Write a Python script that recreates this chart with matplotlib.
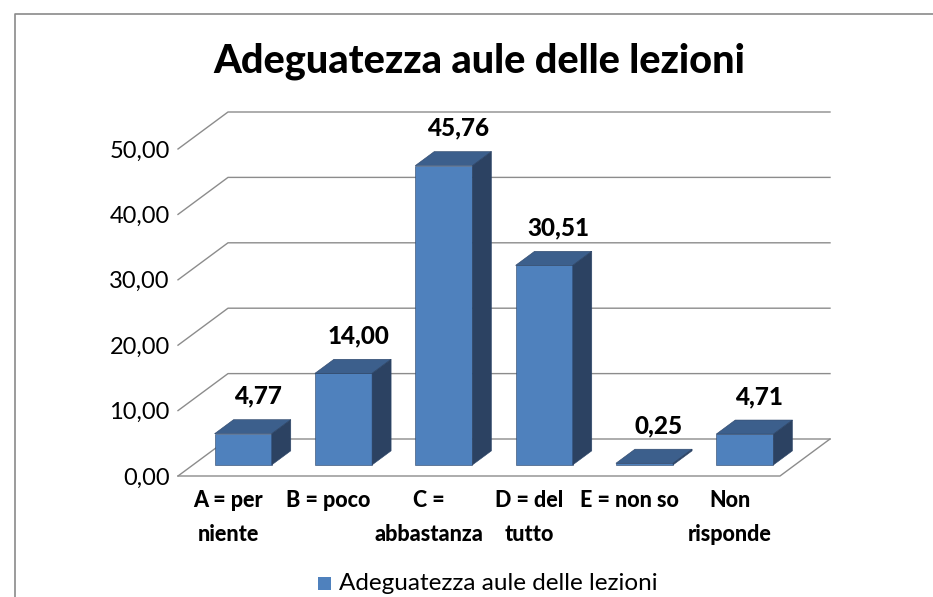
import matplotlib
matplotlib.use("Agg")
import matplotlib.pyplot as plt
from matplotlib.patches import Polygon, Rectangle
from matplotlib.lines import Line2D

categories = ["A = per\nniente", "B = poco", "C =\nabbastanza",
              "D = del\ntutto", "E = non so", "Non\nrisponde"]
values = [4.77, 14.00, 45.76, 30.51, 0.25, 4.71]
yticks = [0, 10, 20, 30, 40, 50]
series_name = "Adeguatezza aule delle lezioni"
title = "Adeguatezza aule delle lezioni"

plt.rcParams['font.family'] = ['Lato', 'DejaVu Sans']

W, H = 933, 597
fig = plt.figure(figsize=(W / 100, H / 100), dpi=100)

# front plane of the 3d box, in pixels
left, right, ybot, ytop = 178, 780, 476, 149
ax = fig.add_axes([left / W, 1 - ybot / H, (right - left) / W, (ybot - ytop) / H])
n = len(categories)
ax.set_xlim(-0.5, n - 0.5)
ax.set_ylim(0, 50)
for s in ax.spines.values():
    s.set_visible(False)

# depth of the box in data units (50 px right, 37 px up)
px_x = (right - left) / n
px_y = (ybot - ytop) / 50
DX = 50 / px_x
DY = 37 / px_y

grid_c = "#8c8c8c"
# back wall gridlines with the diagonal on the left side
for t in yticks:
    ax.plot([-0.5, -0.5 + DX, n - 0.5 + DX], [t, t + DY, t + DY],
            color=grid_c, lw=1, clip_on=False, zorder=1)
# floor outline
ax.plot([-0.5, n - 0.5, n - 0.5 + DX], [0, 0, DY],
        color=grid_c, lw=1, clip_on=False, zorder=1)

front_c = "#4f81bd"
top_c = "#3c5f8c"
side_c = "#2c4262"
edge_c = "#2b4468"
w = 0.57
d0, d1 = 0.30, 0.68
dd = d1 - d0

xs = [i + d0 * DX for i in range(n)]
ax.bar(xs, values, width=w, bottom=d0 * DY, color=front_c,
       edgecolor=edge_c, linewidth=0.4, zorder=3)
for i, v in enumerate(values):
    x0 = xs[i] - w / 2
    b = d0 * DY
    top = Polygon([(x0, b + v), (x0 + w, b + v),
                   (x0 + w + dd * DX, b + v + dd * DY),
                   (x0 + dd * DX, b + v + dd * DY)],
                  closed=True, facecolor=top_c, edgecolor=edge_c,
                  linewidth=0.4, zorder=3, clip_on=False)
    side = Polygon([(x0 + w, b), (x0 + w + dd * DX, b + dd * DY),
                    (x0 + w + dd * DX, b + v + dd * DY), (x0 + w, b + v)],
                   closed=True, facecolor=side_c, edgecolor=edge_c,
                   linewidth=0.4, zorder=3, clip_on=False)
    ax.add_patch(top)
    ax.add_patch(side)
    ax.text(i + (d0 + dd / 2) * DX + 0.05, v + d1 * DY + 3.6,
            f"{v:.2f}".replace(".", ","), ha="center", va="center",
            fontsize=17.5, fontweight="black", color="black", zorder=5,
            clip_on=False)

ax.set_yticks(yticks)
ax.set_yticklabels([f"{t:.2f}".replace(".", ",") for t in yticks], fontsize=17)
ax.set_xticks(range(n))
ax.set_xticklabels(categories, fontsize=15.5, fontweight="black", linespacing=1.75)
ax.tick_params(axis="y", length=0, pad=6)
ax.tick_params(axis="x", length=0, pad=10)
for lab in ax.get_xticklabels():
    lab.set_verticalalignment("top")

fig.text(479 / W, 1 - 61 / H, title, ha="center", va="center",
         fontsize=28.5, fontweight="black")

# legend
fig.patches.append(Rectangle((318 / W, 1 - 590 / H), 13 / W, 13 / H,
                             transform=fig.transFigure, facecolor=front_c,
                             edgecolor="none"))
fig.text(339 / W, 1 - 583 / H, series_name, ha="left", va="center", fontsize=17.5)

# chart area frame (only top and left edges are in view)
fig.add_artist(Line2D([15 / W, 15 / W, 1], [0, 1 - 14 / H, 1 - 14 / H],
                      transform=fig.transFigure, color="#8a8a8a", lw=1.2))

fig.savefig("out.png", dpi=100)
